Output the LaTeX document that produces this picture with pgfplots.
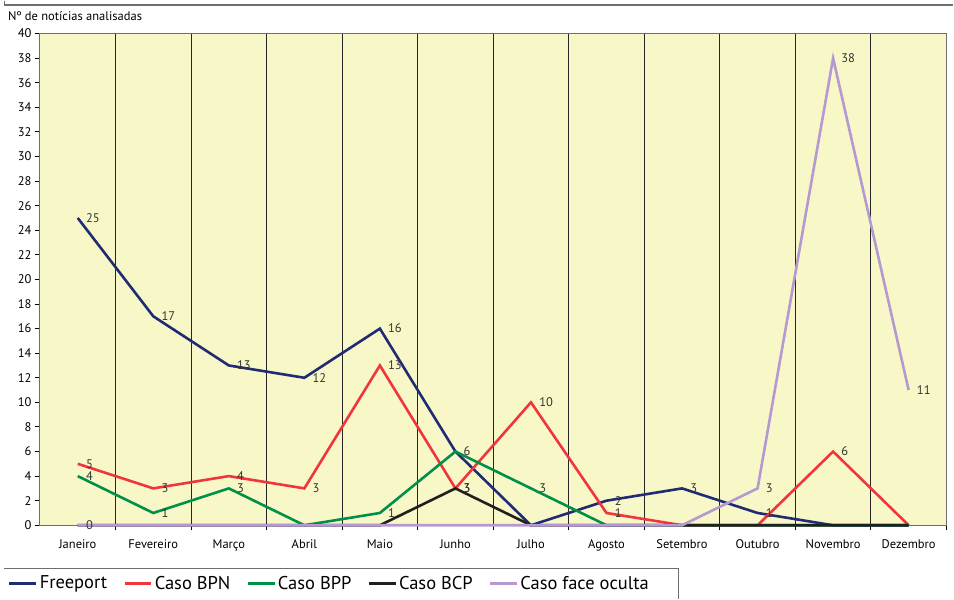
\documentclass[border=0pt]{standalone}
\usepackage{fontspec}
\setmainfont{PT Sans}
\usepackage{pgfplots}
\pgfplotsset{compat=1.18}
\definecolor{bgyel}{HTML}{F8F7C8}
\definecolor{cfree}{HTML}{1F2C74}
\definecolor{cbpn}{HTML}{F0363C}
\definecolor{cbpp}{HTML}{00904A}
\definecolor{cbcp}{HTML}{231F20}
\definecolor{cface}{HTML}{B49AD0}
\definecolor{frame}{HTML}{6E6E6E}
\definecolor{lbl}{HTML}{333333}
\begin{document}
\begin{tikzpicture}[x=1pt,y=1pt]
% page box and frames (1px = 1pt, origin bottom-left)
\path[fill=white] (0,0) rectangle (954,599);
\draw[frame, line width=1.2pt] (4.5,599) -- (4.5,594.5) -- (954,594.5);
\draw[frame, line width=1pt] (4.5,31) -- (679,31) -- (679,0);
\node[anchor=west, font=\fontsize{12.5}{14}\selectfont, inner sep=0pt] at (8,584) {Nº de notícias analisadas};
\begin{axis}[
  at={(40pt,74pt)}, anchor=south west,
  width=907pt, height=492pt, scale only axis,
  xmin=0.5, xmax=12.5, ymin=0, ymax=40,
  axis background/.style={fill=bgyel},
  axis line style={draw=frame, line width=1pt},
  xtick={1,...,12},
  xticklabels={Janeiro,Fevereiro,Março,Abril,Maio,Junho,Julho,Agosto,Setembro,Outubro,Novembro,Dezembro},
  major x tick style={draw=none},
  minor xtick={1.5,2.5,...,11.5,12.5},
  minor x tick style={draw=black, line width=0.9pt},
  xminorgrids, minor grid style={draw=black!85, line width=0.9pt},
  minor tick length=5pt,
  ytick={0,2,...,40},
  major y tick style={draw=black, line width=0.9pt},
  major tick length=5pt,
  tick align=outside,
  axis x line*=box, axis y line*=box,
  xtick pos=bottom, ytick pos=left,
  ticklabel style={font=\fontsize{12.5}{14}\selectfont, text=black},
  /pgf/number format/assume math mode=true,
  x tick label style={yshift=-6pt},
  every axis plot/.append style={line width=2.6pt, mark=none, line join=miter},
  nodes near coords,
  point meta=explicit symbolic,
  every node near coord/.style={anchor=west, xshift=6pt, font=\fontsize{12.5}{14}\selectfont, text=lbl, inner sep=1pt},
  legend style={at={(-35pt,-58pt)}, anchor=west, draw=none, fill=none,
    font=\fontsize{18.5}{20}\selectfont, legend columns=-1,
    /tikz/every even column/.append style={column sep=14pt}},
  legend image code/.code={\draw[#1, line width=2.6pt] (0pt,0pt) -- (27pt,0pt);},
  clip=false,
]
\addplot[cfree] coordinates {
 (1,25) [25] (2,17) [17] (3,13) [13] (4,12) [12] (5,16) [16] (6,6) []
 (7,0) [] (8,2) [2] (9,3) [3] (10,1) [1] (11,0) [] (12,0) []
};
\addlegendentry{Freeport}
\addplot[cbpn] coordinates {
 (1,5) [5] (2,3) [3] (3,4) [4] (4,3) [3] (5,13) [13] (6,3) [3]
 (7,10) [10] (8,1) [1] (9,0) [] (10,0) [] (11,6) [6] (12,0) []
};
\addlegendentry{Caso BPN}
\addplot[cbpp] coordinates {
 (1,4) [4] (2,1) [1] (3,3) [3] (4,0) [] (5,1) [1] (6,6) [6]
 (7,3) [3] (8,0) [] (9,0) [] (10,0) [] (11,0) [] (12,0) []
};
\addlegendentry{Caso BPP}
\addplot[cbcp] coordinates {
 (1,0) [] (2,0) [] (3,0) [] (4,0) [] (5,0) [] (6,3) [3]
 (7,0) [] (8,0) [] (9,0) [] (10,0) [] (11,0) [] (12,0) []
};
\addlegendentry{Caso BCP}
\addplot[cface] coordinates {
 (1,0) [0] (2,0) [] (3,0) [] (4,0) [] (5,0) [] (6,0) []
 (7,0) [] (8,0) [] (9,0) [] (10,3) [3] (11,38) [38] (12,11) [11]
};
\addlegendentry{Caso face oculta}
\end{axis}
\end{tikzpicture}
\end{document}
